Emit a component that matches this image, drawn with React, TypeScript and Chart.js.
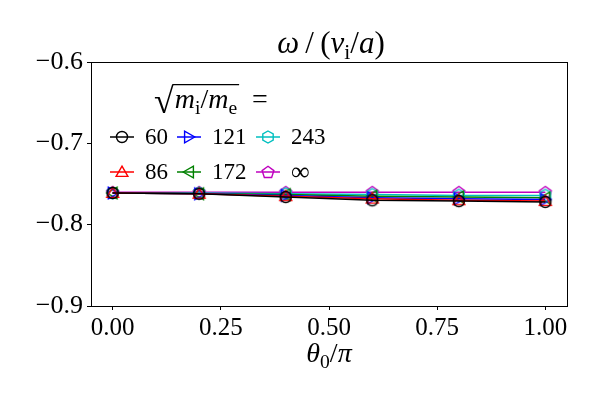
import React, { useEffect, useRef } from "react";
import { Chart, registerables } from "chart.js";

Chart.register(...registerables);

// ---- data ----
const thetaValues = [0, 0.2, 0.4, 0.6, 0.8, 1.0];
const seriesLabels = ["60", "86", "121", "172", "243", "∞"];
const omega60 = [-0.761, -0.762, -0.766, -0.770, -0.771, -0.772];
const omega86 = [-0.761, -0.762, -0.765, -0.768, -0.770, -0.771];
const omega121 = [-0.761, -0.762, -0.764, -0.767, -0.768, -0.769];
const omega172 = [-0.761, -0.762, -0.763, -0.765, -0.766, -0.767];
const omega243 = [-0.761, -0.761, -0.762, -0.763, -0.764, -0.764];
const omegaInf = [-0.760, -0.760, -0.760, -0.760, -0.760, -0.760];
const xTicks = [0, 0.25, 0.5, 0.75, 1.0];
const yTicks = [-0.9, -0.8, -0.7, -0.6];

const seriesValues = [omega60, omega86, omega121, omega172, omega243, omegaInf];
const seriesColors = ["#000000", "#ff0000", "#0000ff", "#008000", "#00bfbf", "#bf00bf"];
const seriesShapes = ["circle", "triUp", "triRight", "triLeft", "hexagon", "pentagon"];

const FONT = "'Liberation Serif', 'DejaVu Serif', serif";

function makeMarker(shape: string, color: string): HTMLCanvasElement {
  const size = 18;
  const c = document.createElement("canvas");
  c.width = size;
  c.height = size;
  const ctx = c.getContext("2d")!;
  ctx.strokeStyle = color;
  ctx.lineWidth = 1.4;
  const cx = size / 2;
  const cy = size / 2;
  ctx.beginPath();
  const poly = (n: number, start: number, r: number, dx = 0, dy = 0) => {
    for (let i = 0; i < n; i++) {
      const a = start + (i * 2 * Math.PI) / n;
      const px = cx + dx + r * Math.cos(a);
      const py = cy + dy + r * Math.sin(a);
      if (i === 0) ctx.moveTo(px, py);
      else ctx.lineTo(px, py);
    }
    ctx.closePath();
  };
  switch (shape) {
    case "circle":
      ctx.arc(cx, cy, 5.5, 0, Math.PI * 2);
      break;
    case "triUp":
      poly(3, -Math.PI / 2, 6.8, 0, 1);
      break;
    case "triRight":
      poly(3, 0, 6.8, -1, 0);
      break;
    case "triLeft":
      poly(3, Math.PI, 6.8, 1, 0);
      break;
    case "hexagon":
      poly(6, -Math.PI / 2, 6);
      break;
    case "pentagon":
      poly(5, -Math.PI / 2, 6.2, 0, 0.5);
      break;
  }
  ctx.stroke();
  return c;
}

type Run = { t: string; italic?: boolean; sub?: boolean };

function drawRuns(ctx: CanvasRenderingContext2D, runs: Run[], size: number, x: number, y: number, align: "left" | "center") {
  const fontFor = (r: Run) => `${r.italic ? "italic " : ""}${r.sub ? size * 0.7 : size}px ${FONT}`;
  let total = 0;
  const widths = runs.map((r) => {
    ctx.font = fontFor(r);
    const w = ctx.measureText(r.t).width;
    total += w;
    return w;
  });
  let cx = align === "center" ? x - total / 2 : x;
  ctx.textAlign = "left";
  ctx.textBaseline = "alphabetic";
  runs.forEach((r, i) => {
    ctx.font = fontFor(r);
    ctx.fillText(r.t, cx, r.sub ? y + size * 0.2 : y);
    cx += widths[i];
  });
  return total;
}

const decorPlugin = {
  id: "decor",
  afterDraw(chart: any) {
    const ctx: CanvasRenderingContext2D = chart.ctx;
    const a = chart.chartArea;
    ctx.save();
    // frame
    ctx.strokeStyle = "#000";
    ctx.lineWidth = 1;
    ctx.strokeRect(Math.round(a.left) + 0.5, Math.round(a.top) + 0.5, Math.round(a.right - a.left), Math.round(a.bottom - a.top));
    ctx.fillStyle = "#000";
    // title
    drawRuns(
      ctx,
      [
        { t: "ω", italic: true },
        { t: "\u2009/\u2009(" },
        { t: "v", italic: true },
        { t: "i", sub: true },
        { t: "/" },
        { t: "a", italic: true },
        { t: ")" },
      ],
      31,
      (a.left + a.right) / 2 + 2,
      53,
      "center"
    );
    // x label
    drawRuns(
      ctx,
      [{ t: "θ", italic: true }, { t: "0", sub: true }, { t: "/" }, { t: "π", italic: true }],
      28,
      (a.left + a.right) / 2,
      362,
      "center"
    );
    // legend title
    ctx.font = `36px ${FONT}`;
    const rad = "√";
    const radW = ctx.measureText(rad).width;
    const radAsc = ctx.measureText(rad).actualBoundingBoxAscent;
    const lx = 154;
    const ly = 113;
    ctx.fillText(rad, lx, ly);
    const w = drawRuns(
      ctx,
      [
        { t: "m", italic: true },
        { t: "i", sub: true },
        { t: "/" },
        { t: "m", italic: true },
        { t: "e", sub: true },
      ],
      28,
      lx + radW + 1,
      ly - 5,
      "left"
    );
    ctx.lineWidth = 1.3;
    ctx.beginPath();
    ctx.moveTo(lx + radW - 1, ly - radAsc + 0.7);
    ctx.lineTo(lx + radW + w + 3, ly - radAsc + 0.7);
    ctx.stroke();
    ctx.font = `28px ${FONT}`;
    ctx.fillText("  =", lx + radW + w + 2, ly - 5);
    // legend entries (column-major, 3 columns x 2 rows)
    const colX = [110, 177, 256];
    const rowY = [137, 172];
    chart.data.datasets.forEach((ds: any, i: number) => {
      const col = Math.floor(i / 2);
      const row = i % 2;
      const x0 = colX[col];
      const y0 = rowY[row];
      ctx.strokeStyle = ds.borderColor;
      ctx.lineWidth = 1.5;
      ctx.beginPath();
      ctx.moveTo(x0, y0);
      ctx.lineTo(x0 + 24, y0);
      ctx.stroke();
      const img = ds.pointStyle as HTMLCanvasElement;
      ctx.drawImage(img, x0 + 12 - img.width / 2, y0 - img.height / 2);
      ctx.fillStyle = "#000";
      ctx.font = `${ds.label === "∞" ? 26 : 23}px ${FONT}`;
      ctx.textAlign = "left";
      ctx.textBaseline = "middle";
      ctx.fillText(ds.label, x0 + 35, y0 + 1);
    });
    ctx.restore();
  },
};

export default function App() {
  const ref = useRef<HTMLCanvasElement>(null);
  useEffect(() => {
    const datasets = seriesLabels.map((label, i) => ({
      label,
      data: thetaValues.map((x, j) => ({ x, y: seriesValues[i][j] })),
      borderColor: seriesColors[i],
      borderWidth: 1.5,
      pointStyle: makeMarker(seriesShapes[i], seriesColors[i]),
      pointRadius: 6,
      fill: false,
      tension: 0,
    }));
    const chart = new Chart(ref.current!, {
      type: "line",
      data: { datasets },
      plugins: [decorPlugin],
      options: {
        animation: false,
        responsive: false,
        devicePixelRatio: 1,
        layout: { padding: { top: 62, right: 31, left: 0, bottom: 0 } },
        plugins: { legend: { display: false }, tooltip: { enabled: false }, title: { display: false } },
        scales: {
          x: {
            type: "linear",
            min: -0.05,
            max: 1.05,
            afterBuildTicks: (s: any) => {
              s.ticks = xTicks.map((v) => ({ value: v }));
            },
            afterFit: (s: any) => {
              s.height = 93;
            },
            grid: { drawOnChartArea: false, drawTicks: true, tickLength: 4, tickColor: "#000", tickWidth: 1 },
            border: { display: true, color: "#000", width: 1 },
            ticks: {
              color: "#000",
              font: { family: FONT, size: 25 },
              padding: 3,
              maxRotation: 0,
              callback: (v: any) => Number(v).toFixed(2),
            },
          },
          y: {
            type: "linear",
            min: -0.9,
            max: -0.6,
            afterBuildTicks: (s: any) => {
              s.ticks = yTicks.map((v) => ({ value: v }));
            },
            afterFit: (s: any) => {
              s.width = 91;
            },
            grid: { drawOnChartArea: false, drawTicks: true, tickLength: 4, tickColor: "#000", tickWidth: 1 },
            border: { display: true, color: "#000", width: 1 },
            ticks: {
              color: "#000",
              font: { family: FONT, size: 26 },
              padding: 4,
              callback: (v: any) => "−" + Math.abs(Number(v)).toFixed(1),
            },
          },
        },
      } as any,
    });
    return () => chart.destroy();
  }, []);
  return (
    <div style={{ position: "absolute", left: 0, top: 0, width: 598, height: 399, background: "#fff" }}>
      <canvas ref={ref} width={598} height={399} style={{ width: 598, height: 399 }} />
    </div>
  );
}
